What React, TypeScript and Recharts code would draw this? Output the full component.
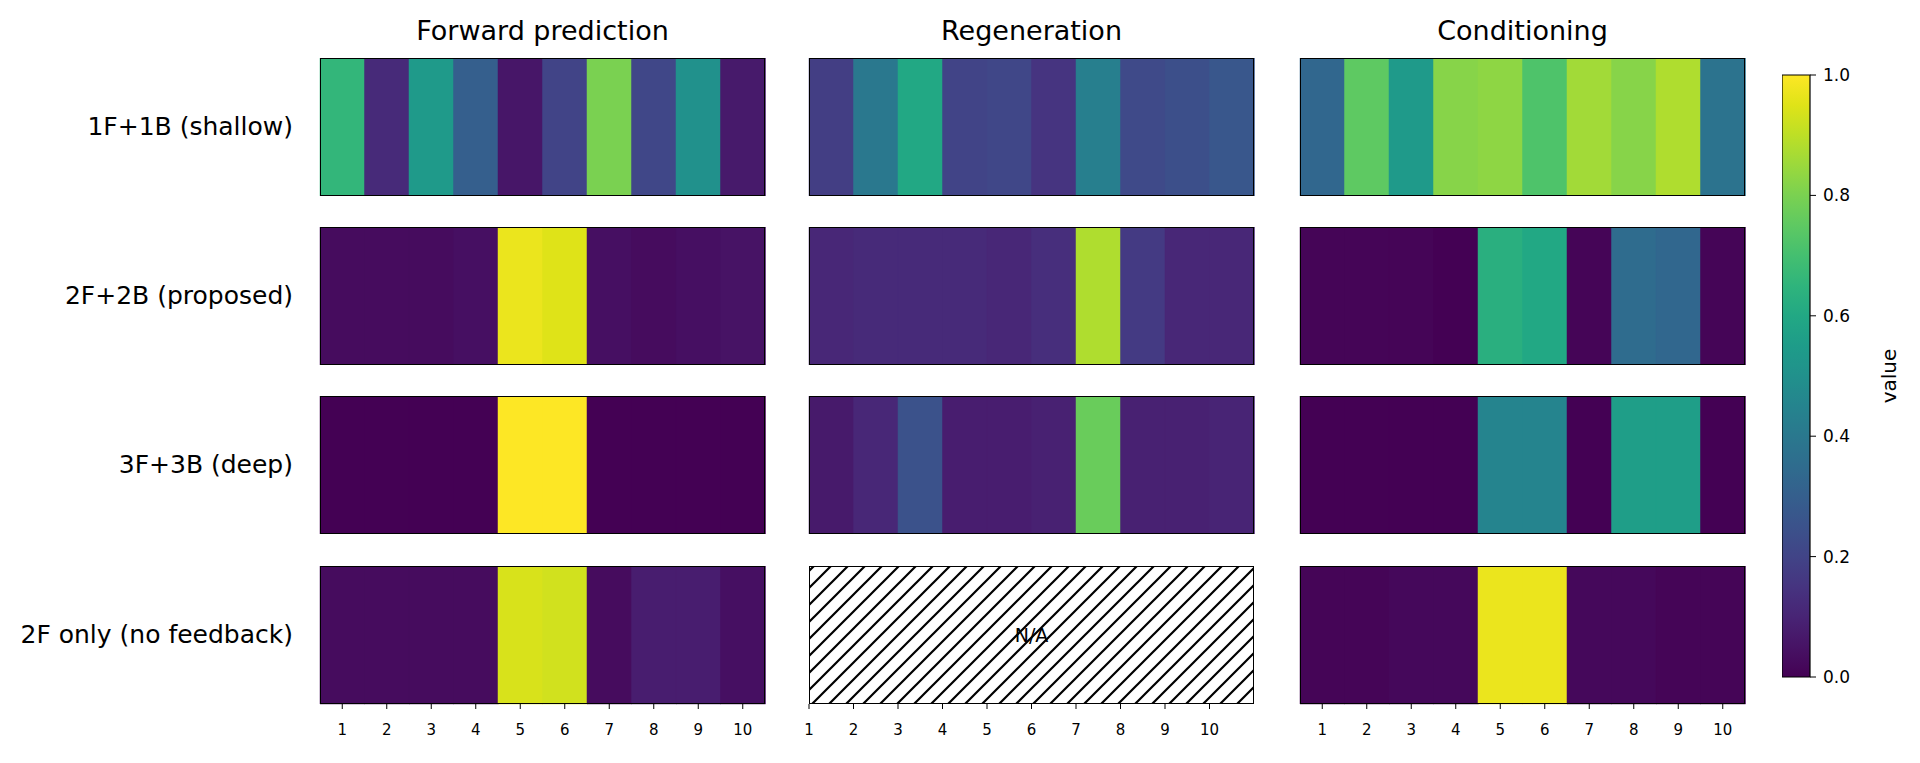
import React from 'react';
import { BarChart, Bar, Cell, XAxis, YAxis, ComposedChart, Area } from 'recharts';

// tasks (columns) and model variants (rows)
const tasks = ['Forward prediction', 'Regeneration', 'Conditioning'];
const models = ['1F+1B (shallow)', '2F+2B (proposed)', '3F+3B (deep)', '2F only (no feedback)'];
const cellLabels = [1, 2, 3, 4, 5, 6, 7, 8, 9, 10];
const colorbarTicks = [0, 0.2, 0.4, 0.6, 0.8, 1.0];
const naExtent = [1, 11];

const fwdShallow = [0.66, 0.12, 0.54, 0.3, 0.06, 0.2, 0.8, 0.21, 0.5, 0.07];
const regShallow = [0.18, 0.4, 0.6, 0.2, 0.21, 0.15, 0.43, 0.22, 0.24, 0.27];
const condShallow = [0.33, 0.75, 0.54, 0.82, 0.83, 0.72, 0.86, 0.82, 0.88, 0.38];

const fwdProposed = [0.03, 0.03, 0.03, 0.04, 0.97, 0.95, 0.04, 0.03, 0.04, 0.05];
const regProposed = [0.11, 0.12, 0.12, 0.12, 0.11, 0.13, 0.88, 0.17, 0.11, 0.11];
const condProposed = [0.01, 0.01, 0.01, 0.0, 0.63, 0.6, 0.01, 0.35, 0.33, 0.01];

const fwdDeep = [0.0, 0.0, 0.0, 0.0, 1.0, 1.0, 0.0, 0.0, 0.0, 0.0];
const regDeep = [0.07, 0.11, 0.25, 0.08, 0.08, 0.09, 0.77, 0.09, 0.09, 0.1];
const condDeep = [0.0, 0.0, 0.0, 0.0, 0.45, 0.45, 0.0, 0.56, 0.56, 0.0];

const fwdNoFb = [0.03, 0.03, 0.03, 0.03, 0.94, 0.93, 0.03, 0.08, 0.08, 0.04];
const regNoFb: number[] | null = null; // not available
const condNoFb = [0.01, 0.01, 0.02, 0.02, 0.97, 0.97, 0.02, 0.02, 0.01, 0.01];

const grid = [
  [fwdShallow, regShallow, condShallow],
  [fwdProposed, regProposed, condProposed],
  [fwdDeep, regDeep, condDeep],
  [fwdNoFb, regNoFb, condNoFb],
];

// viridis colormap stops, every 0.05
const VIRIDIS = [
  '#440154', '#471365', '#482475', '#463480', '#414487', '#3b528b', '#355f8d',
  '#2f6c8e', '#2a788e', '#25848e', '#21918c', '#1e9c89', '#22a884', '#2fb47c',
  '#44bf70', '#5ec962', '#7ad151', '#9bd93c', '#bddf26', '#dfe318', '#fde725',
];

function hexToRgb(h: string) {
  return [1, 3, 5].map((i) => parseInt(h.slice(i, i + 2), 16));
}

function viridis(v: number) {
  const t = Math.max(0, Math.min(1, v)) * (VIRIDIS.length - 1);
  const i = Math.min(Math.floor(t), VIRIDIS.length - 2);
  const f = t - i;
  const a = hexToRgb(VIRIDIS[i]);
  const b = hexToRgb(VIRIDIS[i + 1]);
  const c = a.map((x, k) => Math.round(x + (b[k] - x) * f));
  return `rgb(${c[0]},${c[1]},${c[2]})`;
}

const FONT = 'DejaVu Sans, sans-serif';
const colX = [320, 809, 1300];
const rowY = [58, 227, 396, 566];
const PW = 445;
const PH = 138;
const AXIS_H = 50;
const PAD = 12;

const tickStyle = { fontSize: 15, fill: '#000', fontFamily: FONT };

function Strip({ values, bottom }: { values: number[]; bottom: boolean }) {
  const data = values.map((v, i) => ({ cell: cellLabels[i], v, full: 1 }));
  return (
    <BarChart
      width={PW + 2 * PAD}
      height={PH + (bottom ? AXIS_H : 0)}
      data={data}
      margin={{ top: 0, right: PAD, bottom: 0, left: PAD }}
      barCategoryGap={0}
      barGap={0}
    >
      <XAxis
        dataKey="cell"
        hide={!bottom}
        height={AXIS_H}
        axisLine={false}
        tickLine={{ stroke: '#000' }}
        tickSize={5}
        tickMargin={15}
        tick={tickStyle}
        interval={0}
      />
      <YAxis hide domain={[0, 1]} />
      <Bar dataKey="full" isAnimationActive={false}>
        {data.map((d, i) => (
          <Cell key={i} fill={viridis(d.v)} stroke={viridis(d.v)} strokeWidth={0.5} />
        ))}
      </Bar>
    </BarChart>
  );
}

function NaStrip() {
  const data = naExtent.map((x) => ({ x, y: 1 }));
  return (
    <ComposedChart
      width={PW + 2 * PAD}
      height={PH + AXIS_H}
      data={data}
      margin={{ top: 0, right: PAD, bottom: 0, left: PAD }}
    >
      <defs>
        <pattern id="hatch" patternUnits="userSpaceOnUse" width="17" height="17">
          <rect width="17" height="17" fill="#fff" />
          <path d="M0,17 L17,0 M-4,4 L4,-4 M13,21 L21,13" stroke="#000" strokeWidth={2.2} />
        </pattern>
      </defs>
      <XAxis
        dataKey="x"
        type="number"
        domain={[1, 11]}
        ticks={cellLabels}
        height={AXIS_H}
        axisLine={false}
        tickLine={{ stroke: '#000' }}
        tickSize={5}
        tickMargin={15}
        tick={tickStyle}
        interval={0}
      />
      <YAxis hide type="number" domain={[0, 1]} />
      <Area
        type="linear"
        dataKey="y"
        baseValue={0}
        fill="url(#hatch)"
        fillOpacity={1}
        stroke="none"
        dot={false}
        activeDot={false}
        isAnimationActive={false}
      />
    </ComposedChart>
  );
}

function Colorbar() {
  const data = [{ name: 'cb', v: 1 }];
  return (
    <BarChart
      width={110}
      height={622}
      data={data}
      margin={{ top: 10, right: 0, bottom: 10, left: 0 }}
      barCategoryGap={0}
    >
      <defs>
        <linearGradient id="viridisGrad" x1="0" y1="1" x2="0" y2="0">
          {VIRIDIS.map((c, i) => (
            <stop key={i} offset={`${(i / (VIRIDIS.length - 1)) * 100}%`} stopColor={c} />
          ))}
        </linearGradient>
      </defs>
      <XAxis dataKey="name" hide />
      <YAxis
        orientation="right"
        domain={[0, 1]}
        ticks={colorbarTicks}
        tickFormatter={(t: number) => t.toFixed(1)}
        width={82}
        axisLine={false}
        tickLine={{ stroke: '#000' }}
        tickSize={6}
        tickMargin={7}
        tick={{ fontSize: 17, fill: '#000', fontFamily: FONT }}
      />
      <Bar dataKey="v" fill="url(#viridisGrad)" stroke="#000" strokeWidth={1.2} isAnimationActive={false} />
    </BarChart>
  );
}

export default function App() {
  return (
    <div
      style={{
        position: 'absolute',
        left: 0,
        top: 0,
        width: 1920,
        height: 763,
        background: '#fff',
        fontFamily: FONT,
        color: '#000',
      }}
    >
      {tasks.map((t, c) => (
        <div
          key={t}
          style={{
            position: 'absolute',
            left: colX[c],
            width: PW,
            top: 14,
            textAlign: 'center',
            fontSize: 27,
            lineHeight: '34px',
          }}
        >
          {t}
        </div>
      ))}
      {models.map((m, r) => (
        <div
          key={m}
          style={{
            position: 'absolute',
            left: 0,
            width: 293,
            top: rowY[r] + PH / 2 - 17,
            textAlign: 'right',
            fontSize: 25,
            lineHeight: '34px',
          }}
        >
          {m}
        </div>
      ))}
      {grid.map((row, r) =>
        row.map((vals, c) => (
          <React.Fragment key={`${r}-${c}`}>
            <div style={{ position: 'absolute', left: colX[c] - PAD, top: rowY[r] }}>
              {vals ? <Strip values={vals} bottom={r === models.length - 1} /> : <NaStrip />}
            </div>
            {!vals && (
              <div
                style={{
                  position: 'absolute',
                  left: colX[c],
                  top: rowY[r],
                  width: PW,
                  height: PH,
                  display: 'flex',
                  alignItems: 'center',
                  justifyContent: 'center',
                  fontSize: 19,
                  pointerEvents: 'none',
                }}
              >
                N/A
              </div>
            )}
            <div
              style={{
                position: 'absolute',
                left: colX[c],
                top: rowY[r],
                width: PW,
                height: PH,
                border: '1.4px solid #000',
                boxSizing: 'border-box',
                pointerEvents: 'none',
              }}
            />
          </React.Fragment>
        ))
      )}
      <div style={{ position: 'absolute', left: 1782, top: 65 }}>
        <Colorbar />
      </div>
      <div
        style={{
          position: 'absolute',
          left: 1889 - 40,
          top: 376 - 14,
          width: 80,
          height: 28,
          textAlign: 'center',
          fontSize: 20,
          lineHeight: '28px',
          transform: 'rotate(-90deg)',
        }}
      >
        value
      </div>
    </div>
  );
}
